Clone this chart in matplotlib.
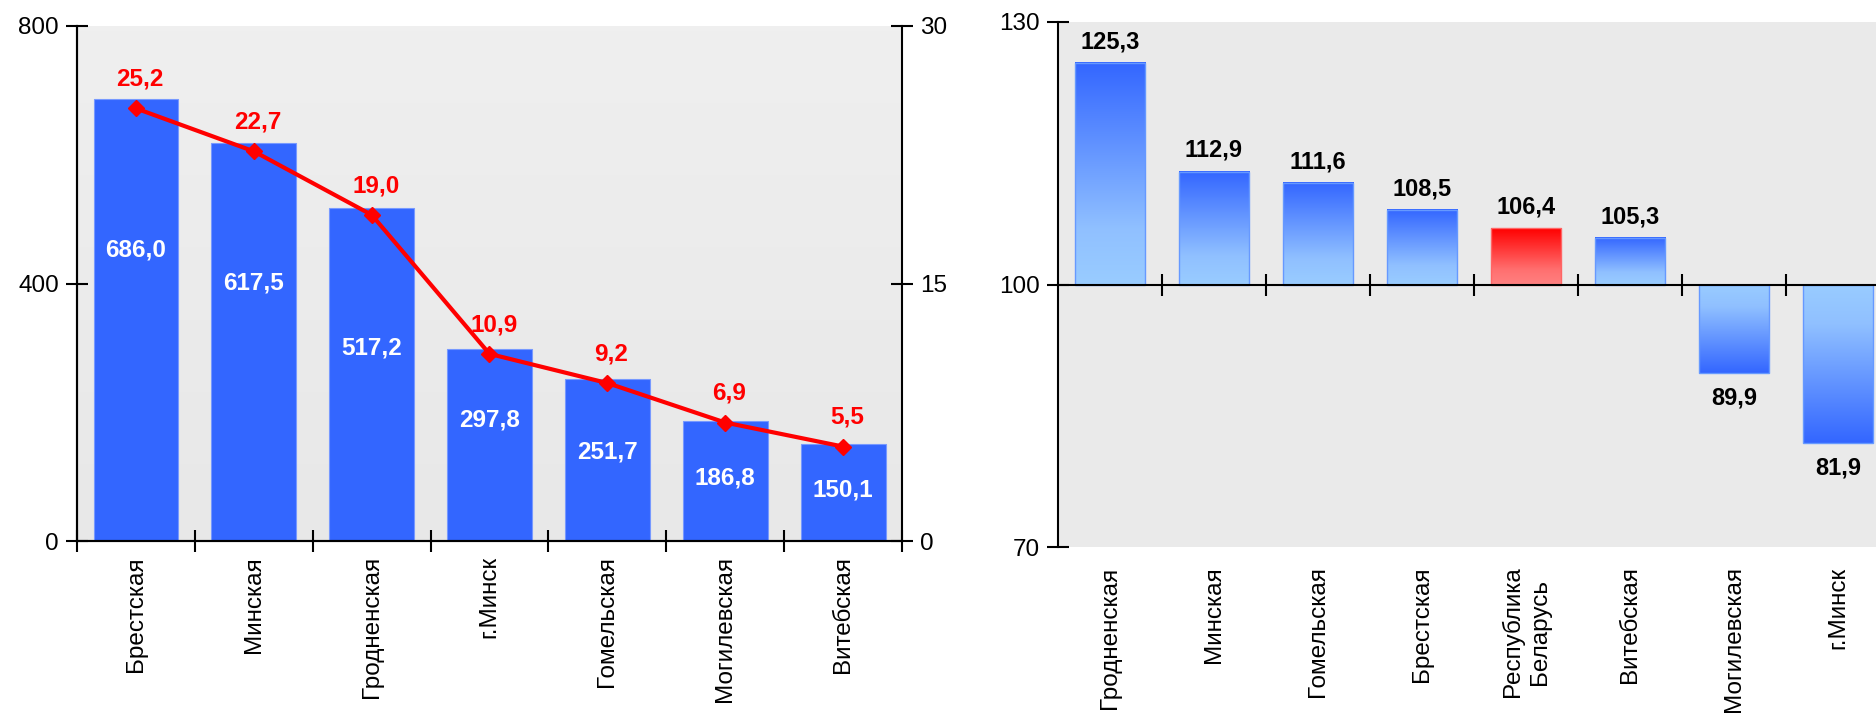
import numpy as np
import matplotlib
matplotlib.use('Agg')
import matplotlib.pyplot as plt
from matplotlib.colors import LinearSegmentedColormap

plt.rcParams['font.family'] = ['Liberation Sans', 'DejaVu Sans']

# левая диаграмма: объём и удельный вес по областям
regions_left = ['Брестская', 'Минская', 'Гродненская', 'г.Минск',
                'Гомельская', 'Могилевская', 'Витебская']
volume = [686.0, 617.5, 517.2, 297.8, 251.7, 186.8, 150.1]
share = [25.2, 22.7, 19.0, 10.9, 9.2, 6.9, 5.5]

# правая диаграмма: индекс, %
regions_right = ['Гродненская', 'Минская', 'Гомельская', 'Брестская',
                 'Республика\nБеларусь', 'Витебская', 'Могилевская', 'г.Минск']
index_pct = [125.3, 112.9, 111.6, 108.5, 106.4, 105.3, 89.9, 81.9]
highlight = 'Республика\nБеларусь'

# где стоят белые подписи внутри столбцов (доля высоты столбца)
inner_pos = [0.66, 0.65, 0.58, 0.63, 0.55, 0.52, 0.53]


def fmt(v):
    return f'{v:.1f}'.replace('.', ',')


W, H = 1876, 714
fig = plt.figure(figsize=(W / 100, H / 100), dpi=100)

# ---------- левая ----------
ax1 = fig.add_axes([77 / W, (H - 541) / H, 825 / W, 515 / H])
bg = LinearSegmentedColormap.from_list('bg', ['#E8E8E8', '#EFEFEF'])
ax1.imshow(np.linspace(0, 1, 100).reshape(-1, 1), cmap=bg, origin='lower',
           extent=[0, 1, 0, 1], transform=ax1.transAxes, aspect='auto', zorder=0)

x1 = np.arange(len(regions_left))
bars1 = ax1.bar(x1, volume, width=0.72, color='#3366FF', edgecolor='#7799FF',
                linewidth=0.8, zorder=2)
for b, v, f in zip(bars1, volume, inner_pos):
    ax1.text(b.get_x() + b.get_width() / 2, v * f, fmt(v), color='white',
             fontsize=17.5, fontweight='bold', ha='center', va='center', zorder=3)

ax1.set_xlim(-0.5, len(regions_left) - 0.5)
ax1.set_ylim(0, 800)
ax1.set_yticks([0, 400, 800])
ax1.set_xticks(np.arange(-0.5, len(regions_left), 1))
ax1.set_xticklabels([])
ax1.tick_params(axis='both', direction='inout', length=16, width=1.5,
                labelsize=17.5, pad=5)
for i, name in enumerate(regions_left):
    ax1.annotate(name, (i, 0), xycoords=('data', 'axes fraction'),
                 xytext=(0, -11), textcoords='offset points', rotation=90,
                 ha='center', va='top', fontsize=17.5)

ax2 = ax1.twinx()
ax2.plot(x1, share, color='#FF0000', lw=3, marker='D', ms=8, zorder=4)
for i, s in enumerate(share):
    ax2.annotate(fmt(s), (i, s), xytext=(3, 21), textcoords='offset points',
                 color='#FF0000', fontsize=17.5, fontweight='bold',
                 ha='center', va='center')
ax2.set_ylim(0, 30)
ax2.set_yticks([0, 15, 30])
ax2.tick_params(axis='y', direction='inout', length=16, width=1.5,
                labelsize=17.5, pad=5)

for a in (ax1, ax2):
    a.spines['top'].set_visible(False)
    for s in ('left', 'right', 'bottom'):
        a.spines[s].set_linewidth(1.5)
ax1.spines['right'].set_visible(False)

# ---------- правая ----------
ax3 = fig.add_axes([1058 / W, (H - 547) / H, 832 / W, 525 / H])
ax3.set_facecolor('#EAEAEA')
x3 = np.arange(len(regions_right))
diffs = [v - 100 for v in index_pct]
colors_edge = ['#FF6666' if r == highlight else '#6699FF' for r in regions_right]
bars3 = ax3.bar(x3, diffs, bottom=100, width=0.68, color='none',
                edgecolor=colors_edge, linewidth=1, zorder=3)

blue = LinearSegmentedColormap.from_list('blue', [(0, '#99CCFF'), (0.25, '#90C0FF'), (1, '#3366FF')])
red = LinearSegmentedColormap.from_list('red', [(0, '#FF8080'), (0.25, '#FF7070'), (1, '#FF0000')])
for b, v, r in zip(bars3, index_pct, regions_right):
    x0, w = b.get_x(), b.get_width()
    y0, h = b.get_y(), b.get_height()
    lo, hi = min(y0, y0 + h), max(y0, y0 + h)
    grad = np.linspace(0, 1, 256) if v >= 100 else np.linspace(1, 0, 256)
    ax3.imshow(grad.reshape(-1, 1), cmap=red if r == highlight else blue,
               origin='lower', extent=[x0, x0 + w, lo, hi], aspect='auto',
               zorder=2)
    if v >= 100:
        ax3.annotate(fmt(v), (b.get_x() + w / 2, v), xytext=(0, 7),
                     textcoords='offset points', ha='center', va='bottom',
                     fontsize=17, fontweight='bold')
    else:
        ax3.annotate(fmt(v), (b.get_x() + w / 2, v), xytext=(0, -10),
                     textcoords='offset points', ha='center', va='top',
                     fontsize=17, fontweight='bold')

ax3.set_xlim(-0.5, len(regions_right) - 0.5)
ax3.set_ylim(70, 130)
ax3.set_yticks([70, 100, 130])
ax3.set_xticks(np.arange(0.5, len(regions_right), 1))
ax3.set_xticklabels([])
ax3.spines['bottom'].set_position(('data', 100))
ax3.spines['top'].set_visible(False)
ax3.spines['right'].set_visible(False)
ax3.spines['left'].set_linewidth(1.5)
ax3.spines['bottom'].set_linewidth(1.5)
ax3.spines['bottom'].set_zorder(4)
ax3.tick_params(axis='both', direction='inout', length=16, width=1.5,
                labelsize=17.5, pad=5)
for i, name in enumerate(regions_right):
    ax3.annotate(name, (i, 0), xycoords=('data', 'axes fraction'),
                 xytext=(0, -14), textcoords='offset points', rotation=90,
                 ha='center', va='top', fontsize=17.5, multialignment='center',
                 linespacing=1.3)

fig.savefig('out.png', dpi=100)
